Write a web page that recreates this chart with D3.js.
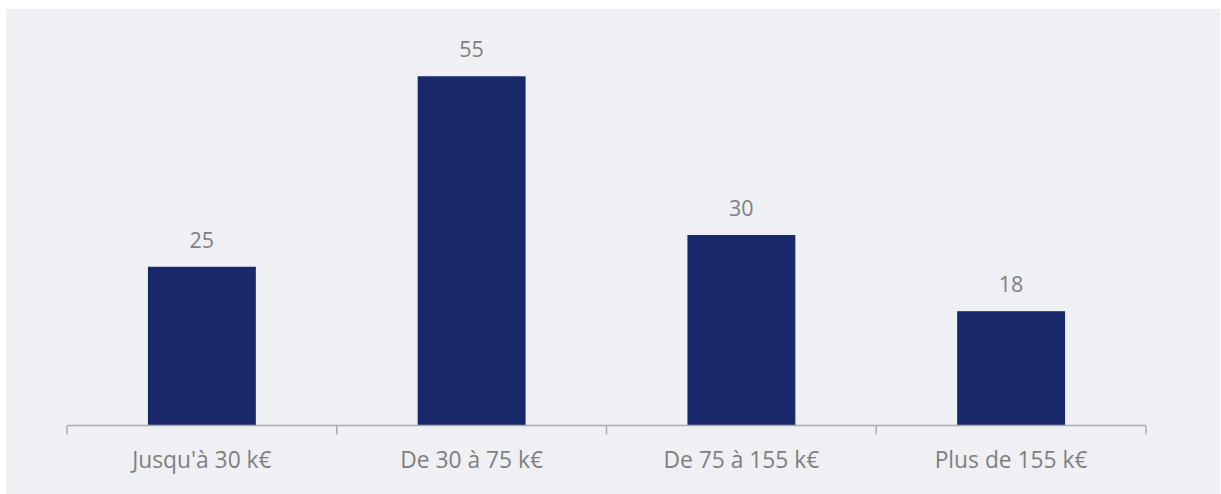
<!DOCTYPE html>
<html><head><meta charset="utf-8">
<script src="https://cdn.jsdelivr.net/npm/d3@7"></script>
<style>html,body{margin:0;padding:0;background:#fff;}svg{display:block;}</style>
</head><body><svg id="c" width="1221" height="494"></svg>
<script>
const categories = ["Jusqu'à 30 k€", "De 30 à 75 k€", "De 75 à 155 k€", "Plus de 155 k€"];
const values = [25, 55, 30, 18];

const svg = d3.select("#c");
svg.append("rect").attr("x", 6).attr("y", 9).attr("width", 1214).attr("height", 485).attr("fill", "#eff0f4");

const x = d3.scaleBand().domain(categories).range([67, 1146]).paddingInner(0.6).paddingOuter(0.3);
const y = d3.scaleLinear().domain([0, 60]).range([425.5, 44.5]);
const font = "'Open Sans', sans-serif";

svg.selectAll("rect.bar").data(values).join("rect").attr("class", "bar")
  .attr("x", (d, i) => x(categories[i])).attr("width", x.bandwidth())
  .attr("y", d => y(d)).attr("height", d => y(0) - y(d)).attr("fill", "#19286b");

svg.selectAll("text.val").data(values).join("text").attr("class", "val")
  .attr("x", (d, i) => x(categories[i]) + x.bandwidth() / 2).attr("y", d => y(d) - 19)
  .attr("text-anchor", "middle").attr("font-family", font).attr("font-size", 21.5)
  .attr("fill", "#7f7f7f").text(d => d);

const xb = d3.scaleBand().domain(categories).range([67, 1146]);
const axis = svg.append("g").attr("transform", "translate(0,425.5)");
axis.append("line").attr("x1", 67).attr("x2", 1146).attr("stroke", "#ababab").attr("stroke-width", 1.5);
const edges = categories.map(c => xb(c)).concat([xb(categories[categories.length - 1]) + xb.bandwidth()]);
axis.selectAll("line.tick").data(edges).join("line").attr("class", "tick")
  .attr("x1", d => d).attr("x2", d => d).attr("y1", 0).attr("y2", 9)
  .attr("stroke", "#ababab").attr("stroke-width", 1.5);
axis.selectAll("text").data(categories).join("text")
  .attr("x", d => xb(d) + xb.bandwidth() / 2).attr("y", 42.5)
  .attr("text-anchor", "middle").attr("font-family", font).attr("font-size", 22.8)
  .attr("fill", "#7f7f7f").text(d => d);
</script></body></html>
